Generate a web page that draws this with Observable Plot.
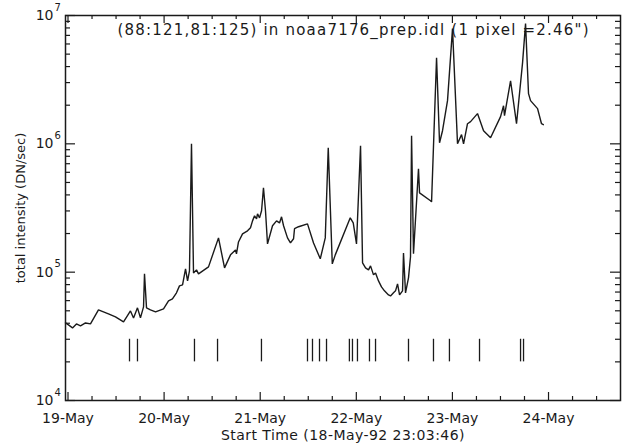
<!DOCTYPE html>
<html>
<head>
<meta charset="utf-8">
<script src="https://cdn.jsdelivr.net/npm/d3@7"></script>
<script src="https://cdn.jsdelivr.net/npm/@observablehq/plot@0.6"></script>
<style>
  html, body { margin: 0; padding: 0; background: #ffffff; }
</style>
</head>
<body>
<div id="chart"></div>
<script>
// Time in decimal days of May 1992
const dates = [18.974, 19.005, 19.047, 19.088, 19.130, 19.182, 19.234, 19.317, 19.421, 19.494,
  19.578, 19.650, 19.682, 19.723, 19.754, 19.786, 19.796, 19.817, 19.858, 19.911,
  19.994, 20.046, 20.087, 20.129, 20.160, 20.192, 20.223, 20.244, 20.264, 20.285,
  20.306, 20.337, 20.358, 20.462, 20.566, 20.629, 20.691, 20.743, 20.753, 20.774,
  20.816, 20.868, 20.899, 20.920, 20.941, 20.962, 20.972, 20.993, 21.014, 21.034,
  21.055, 21.076, 21.128, 21.170, 21.201, 21.222, 21.243, 21.284, 21.315, 21.347,
  21.357, 21.399, 21.492, 21.555, 21.625, 21.677, 21.708, 21.750, 21.781, 21.937,
  21.968, 22.002, 22.044, 22.065, 22.096, 22.127, 22.148, 22.179, 22.200, 22.231,
  22.262, 22.293, 22.335, 22.356, 22.387, 22.408, 22.429, 22.450, 22.481, 22.491,
  22.512, 22.543, 22.564, 22.575, 22.595, 22.647, 22.658, 22.772, 22.783, 22.835,
  22.866, 22.897, 22.949, 23.001, 23.053, 23.095, 23.116, 23.157, 23.189, 23.261,
  23.324, 23.397, 23.501, 23.532, 23.542, 23.605, 23.667, 23.730, 23.761, 23.792,
  23.813, 23.886, 23.927, 23.946];
// total intensity (DN/sec)
const intensity = [4.02e4, 3.88e4, 3.68e4, 3.95e4, 3.81e4, 4.02e4, 3.95e4, 5.08e4, 4.73e4, 4.48e4,
  4.10e4, 4.99e4, 4.40e4, 5.27e4, 4.40e4, 5.36e4, 9.70e4, 5.27e4, 5.08e4, 4.90e4,
  5.17e4, 5.97e4, 6.19e4, 6.90e4, 7.82e4, 7.96e4, 1.061e5, 8.55e4, 1.024e5, 1.00e6,
  9.87e4, 1.042e5, 9.70e4, 1.10e5, 1.85e5, 1.08e5, 1.364e5, 1.49e5, 1.39e5, 1.72e5,
  1.99e5, 2.10e5, 2.22e5, 2.51e5, 2.75e5, 2.60e5, 2.85e5, 2.65e5, 3.01e5, 4.55e5,
  3.01e5, 1.66e5, 2.30e5, 2.51e5, 2.42e5, 2.70e5, 2.30e5, 1.85e5, 1.69e5, 1.82e5,
  2.18e5, 2.26e5, 2.38e5, 1.69e5, 1.27e5, 1.85e5, 9.32e5, 1.16e5, 1.364e5, 2.65e5,
  2.42e5, 1.66e5, 9.66e5, 1.18e5, 1.08e5, 1.042e5, 1.12e5, 9.53e4, 9.87e4, 8.55e4,
  7.68e4, 7.15e4, 6.65e4, 6.53e4, 6.90e4, 7.15e4, 8.10e4, 6.65e4, 7.15e4, 1.41e5,
  6.90e4, 9.03e4, 1.32e5, 1.157e6, 1.39e5, 6.39e5, 4.15e5, 3.60e5, 3.53e5, 4.69e6,
  1.02e6, 1.265e6, 2.17e6, 7.90e6, 1.00e6, 1.18e6, 1.00e6, 1.435e6, 1.49e6, 1.72e6,
  1.265e6, 1.115e6, 1.63e6, 1.98e6, 1.66e6, 3.10e6, 1.435e6, 4.29e6, 8.64e6, 2.46e6,
  2.17e6, 1.88e6, 1.435e6, 1.41e6];
// event markers (start times), drawn as short bars between two intensity levels
const events = [19.640, 19.723, 20.316, 20.556, 21.013, 21.492, 21.544, 21.617, 21.690, 21.928,
  21.960, 22.012, 22.137, 22.200, 22.543, 22.803, 22.969, 23.282, 23.709, 23.740];
const eventLow = 2e4;
const eventHigh = 3e4;

// axes
const xDomain = [18.974, 24.749];
const yDomain = [1e4, 1e7];
const dayTicks = [19, 20, 21, 22, 23, 24];
const dayLabels = ["19-May", "20-May", "21-May", "22-May", "23-May", "24-May"];
const quarterTicks = [19.25, 19.5, 19.75, 20.25, 20.5, 20.75, 21.25, 21.5, 21.75,
  22.25, 22.5, 22.75, 23.25, 23.5, 23.75, 24.25, 24.5];
const decadeTicks = [1e4, 1e5, 1e6, 1e7];
const decadeBase = ["10", "10", "10", "10"];
const decadeExp = ["4", "5", "6", "7"];
const minorTicks = [2e4, 3e4, 4e4, 5e4, 6e4, 7e4, 8e4, 9e4,
  2e5, 3e5, 4e5, 5e5, 6e5, 7e5, 8e5, 9e5,
  2e6, 3e6, 4e6, 5e6, 6e6, 7e6, 8e6, 9e6];

const title = "(88:121,81:125) in noaa7176_prep.idl (1 pixel =2.46\")";
const xLabel = "Start Time (18-May-92 23:03:46)";
const yLabel = "total intensity (DN/sec)";

const series = dates.map((d, i) => ({date: d, value: intensity[i]}));

const W = 628, H = 443;
const mL = 65, mR = 8, mT = 15, mB = 43;
const iw = W - mL - mR, ih = H - mT - mB;
const ink = "#1a1a1a";

const chart = Plot.plot({
  width: W, height: H,
  marginLeft: mL, marginRight: mR, marginTop: mT, marginBottom: mB,
  style: {fontFamily: "DejaVu Sans", fontSize: "14px", background: "#ffffff", color: ink},
  x: {domain: xDomain, axis: null},
  y: {type: "log", domain: yDomain, axis: null},
  marks: [
    // inward ticks: bottom / top
    Plot.ruleX(dayTicks, {x: d => d, insetTop: ih - 8, stroke: ink, strokeWidth: 1.2}),
    Plot.ruleX(quarterTicks, {x: d => d, insetTop: ih - 4, stroke: ink, strokeWidth: 1.2}),
    Plot.ruleX(dayTicks, {x: d => d, insetBottom: ih - 8, stroke: ink, strokeWidth: 1.2}),
    Plot.ruleX(quarterTicks, {x: d => d, insetBottom: ih - 4, stroke: ink, strokeWidth: 1.2}),
    // inward ticks: left / right
    Plot.ruleY(decadeTicks, {y: d => d, insetRight: iw - 10, stroke: ink, strokeWidth: 1.2}),
    Plot.ruleY(minorTicks, {y: d => d, insetRight: iw - 5, stroke: ink, strokeWidth: 1.2}),
    Plot.ruleY(decadeTicks, {y: d => d, insetLeft: iw - 10, stroke: ink, strokeWidth: 1.2}),
    Plot.ruleY(minorTicks, {y: d => d, insetLeft: iw - 5, stroke: ink, strokeWidth: 1.2}),
    // event markers
    Plot.ruleX(events, {x: d => d, y1: eventLow, y2: eventHigh, stroke: ink, strokeWidth: 1.3}),
    // light curve
    Plot.line(series, {x: "date", y: "value", stroke: ink, strokeWidth: 1.4, strokeLinejoin: "miter"}),
    Plot.frame({stroke: ink, strokeWidth: 1.5}),
    // x tick labels
    Plot.text(dayTicks, {x: d => d, text: (d, i) => dayLabels[i], frameAnchor: "bottom", lineAnchor: "middle", dy: 18, fontSize: 14, fill: ink}),
    // y tick labels 10^n
    Plot.text(decadeTicks, {y: d => d, text: (d, i) => decadeBase[i], frameAnchor: "left", lineAnchor: "middle", dx: -12, dy: 0, textAnchor: "end", fontSize: 14, fill: ink}),
    Plot.text(decadeTicks, {y: d => d, text: (d, i) => decadeExp[i], frameAnchor: "left", lineAnchor: "middle", dx: -11, dy: -8, textAnchor: "start", fontSize: 10, fill: ink}),
    // title inside plot
    Plot.text([title], {frameAnchor: "top-left", lineAnchor: "middle", dx: 52, dy: 15, textAnchor: "start", fontSize: 15, fill: ink}),
    // axis titles
    Plot.text([xLabel], {frameAnchor: "bottom", lineAnchor: "middle", dy: 35, fontSize: 14, fill: ink}),
    Plot.text([yLabel], {frameAnchor: "left", lineAnchor: "middle", textAnchor: "middle", dx: -45, rotate: -90, fontSize: 13, fill: ink})
  ]
});
// widen the spacing of the text set in the original's broad plotter font
d3.select(chart).selectAll("text").each(function () {
  const t = this.textContent;
  if (t === title) this.setAttribute("letter-spacing", "1.2px");
  else if (t === xLabel) this.setAttribute("letter-spacing", "0.45px");
});
document.getElementById("chart").appendChild(chart);
</script>
</body>
</html>
